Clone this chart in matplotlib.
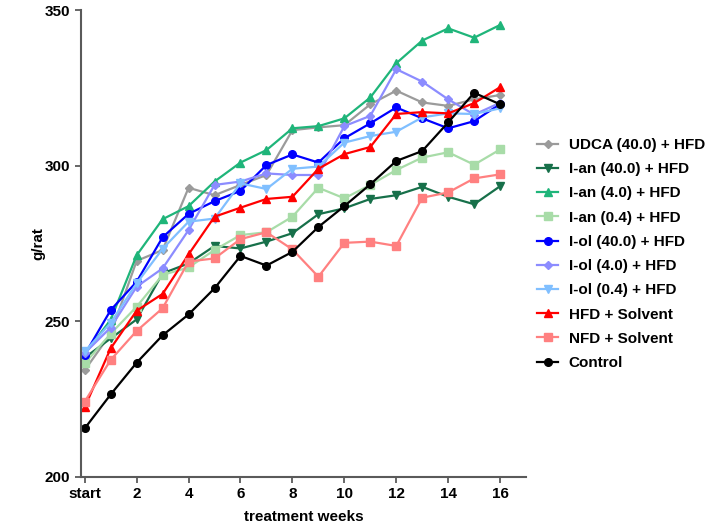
import matplotlib
matplotlib.use('Agg')
import matplotlib.pyplot as plt

plt.rcParams['font.family'] = ['Liberation Sans', 'DejaVu Sans']
plt.rcParams['font.weight'] = 'bold'

weeks = list(range(17))
tick_weeks = [0, 2, 4, 6, 8, 10, 12, 14, 16]
tick_labels = ['start', '2', '4', '6', '8', '10', '12', '14', '16']

udca = [234.3, 246.0, 269.4, 272.9, 292.9, 290.5, 293.8, 297.0, 311.4, 312.3,
        313.0, 319.7, 324.1, 320.3, 319.2, 321.3, 322.7]
ian_40 = [238.3, 244.5, 250.6, 265.4, 268.6, 274.2, 273.4, 275.6, 278.3, 284.4,
          286.3, 289.3, 290.5, 293.2, 290.0, 287.6, 293.4]
ian_4 = [239.5, 250.5, 271.2, 282.8, 287.0, 294.9, 301.0, 305.0, 312.0, 312.7,
         315.2, 321.9, 332.9, 340.2, 344.1, 341.1, 345.2]
ian_04 = [236.5, 246.0, 254.7, 264.9, 267.3, 272.9, 277.7, 278.6, 283.6, 292.9,
          289.5, 293.8, 298.6, 302.6, 304.3, 300.3, 305.2]
iol_40 = [239.3, 253.6, 262.7, 277.0, 284.5, 288.6, 291.9, 300.2, 303.6, 301.0,
          308.8, 313.6, 318.7, 315.2, 312.0, 314.3, 319.8]
iol_4 = [239.8, 248.0, 261.1, 267.0, 279.3, 293.8, 294.9, 297.5, 297.0, 297.0,
         312.7, 316.0, 331.0, 327.0, 321.3, 316.4, 320.2]
iol_04 = [240.3, 249.5, 262.2, 273.3, 282.0, 283.0, 294.3, 292.5, 299.0, 299.7,
          307.4, 309.5, 310.9, 315.5, 316.8, 316.6, 318.4]
hfd = [222.4, 241.3, 253.4, 258.8, 271.5, 283.6, 286.5, 289.3, 290.0, 299.0,
       303.7, 306.0, 316.6, 317.2, 316.8, 320.1, 325.2]
nfd = [224.2, 237.6, 246.9, 254.2, 269.2, 270.2, 276.4, 278.6, 273.1, 264.3,
       275.2, 275.6, 274.2, 289.7, 291.4, 295.9, 297.2]
control = [215.6, 226.5, 236.7, 245.5, 252.2, 260.6, 271.0, 267.9, 272.3, 280.3,
           287.0, 294.0, 301.5, 304.7, 313.9, 323.4, 319.7]

groups = [
    ('UDCA (40.0) + HFD', udca, '#9b9b9b', 'D'),
    ('I-an (40.0) + HFD', ian_40, '#17704a', 'v'),
    ('I-an (4.0) + HFD', ian_4, '#1fb57a', '^'),
    ('I-an (0.4) + HFD', ian_04, '#a8dca8', 's'),
    ('I-ol (40.0) + HFD', iol_40, '#0000ff', 'o'),
    ('I-ol (4.0) + HFD', iol_4, '#8c8cff', 'D'),
    ('I-ol (0.4) + HFD', iol_04, '#80bfff', 'v'),
    ('HFD + Solvent', hfd, '#ff0000', '^'),
    ('NFD + Solvent', nfd, '#ff8080', 's'),
    ('Control', control, '#000000', 'o'),
]


def plot_weights():
    fig = plt.figure(figsize=(7.09, 5.27), dpi=100)
    ax = fig.add_axes([0.114, 0.095, 0.628, 0.886])
    for label, values, color, marker in groups:
        size = 4.5 if marker == 'D' else 5.5
        ax.plot(weeks, values, color=color, marker=marker, markersize=size,
                linewidth=1.6, label=label)

    ax.set_xlim(-0.15, 17)
    ax.set_ylim(200, 350)
    ax.set_xticks(tick_weeks)
    ax.set_xticklabels(tick_labels)
    ax.set_yticks([200, 250, 300, 350])
    for side in ['top', 'right']:
        ax.spines[side].set_visible(False)
    for side in ['left', 'bottom']:
        ax.spines[side].set_color('#5a5a5a')
        ax.spines[side].set_linewidth(1.5)
    ax.tick_params(axis='both', colors='#5a5a5a', width=1.3, length=4,
                   labelsize=11, labelcolor='black')
    ax.set_xlabel('treatment weeks', fontsize=11, fontweight='bold', labelpad=6)
    ax.set_ylabel('g/rat', fontsize=11, fontweight='bold', labelpad=0)

    fig.legend(loc='center left', bbox_to_anchor=(0.758, 0.518),
               frameon=False, fontsize=11, handlelength=1.35,
               handletextpad=0.7, labelspacing=0.67, borderpad=0,
               borderaxespad=0)
    fig.savefig('out.png', dpi=100)


if __name__ == '__main__':
    plot_weights()
